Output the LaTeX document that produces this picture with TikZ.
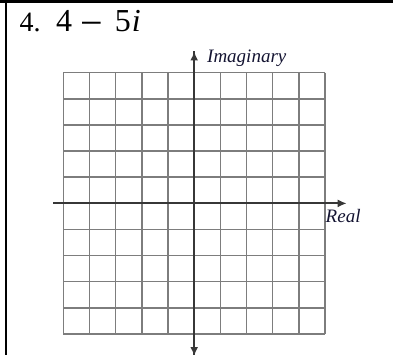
\documentclass[tikz,border=0pt]{standalone}
\usepackage{fontspec}
\setmainfont{Liberation Serif}
\usetikzlibrary{arrows.meta}
\begin{document}
\begin{tikzpicture}[x=1pt,y=-1pt,
  gridline/.style={draw={rgb,255:red,125;green,125;blue,125},line width=1.5pt},
  axisline/.style={draw={rgb,255:red,55;green,55;blue,55},line width=1.8pt,
    -{Latex[length=9pt,width=8pt]}},
  border/.style={draw=black,line width=2.5pt},
  axislabel/.style={anchor=base west,inner sep=0pt,font=\fontsize{19}{22}\selectfont\itshape,
    text={rgb,255:red,20;green,20;blue,50}}]
\useasboundingbox (0,0) rectangle (393,355);
% table borders
\coordinate (tl) at (0,1.3);
\coordinate (tr) at (393,1.3);
\coordinate (lt) at (6.2,0);
\coordinate (lb) at (6.2,355);
\draw[border] (tl) -- (tr);
\draw[border] (lt) -- (lb);
% title
\node[anchor=base west,inner sep=0pt,font=\fontsize{28}{32}\selectfont] (num) at (19.5,31.7) {4.};
\node[anchor=base west,inner sep=0pt,font=\fontsize{32}{35}\selectfont] (expr) at (56,31.7)
  {4\hspace{8pt}{\fontsize{40}{40}\selectfont\raisebox{-5pt}{−}}\hspace{12pt}5\kern1pt\textit{i}};
% grid
\foreach \i in {0,...,10}{
  \draw[gridline] ({63.3+26.17*\i},72.7) -- ({63.3+26.17*\i},334);
  \draw[gridline] (63.3,{72.7+26.13*\i}) -- (325,{72.7+26.13*\i});
}
% axes
\coordinate (xl) at (53.3,203.4);
\coordinate (xr) at (346.7,203.4);
\coordinate (yb) at (194.2,356);
\coordinate (yt) at (194.2,51.5);
\draw[axisline] (xl) -- (xr);
\draw[axisline] (yb) -- (yt);
\draw[axisline] (yt) -- (yb);
\node[axislabel] (im) at (207,63) {Imaginary};
\node[axislabel] (re) at (325.5,222.5) {Real};
\end{tikzpicture}
\end{document}
